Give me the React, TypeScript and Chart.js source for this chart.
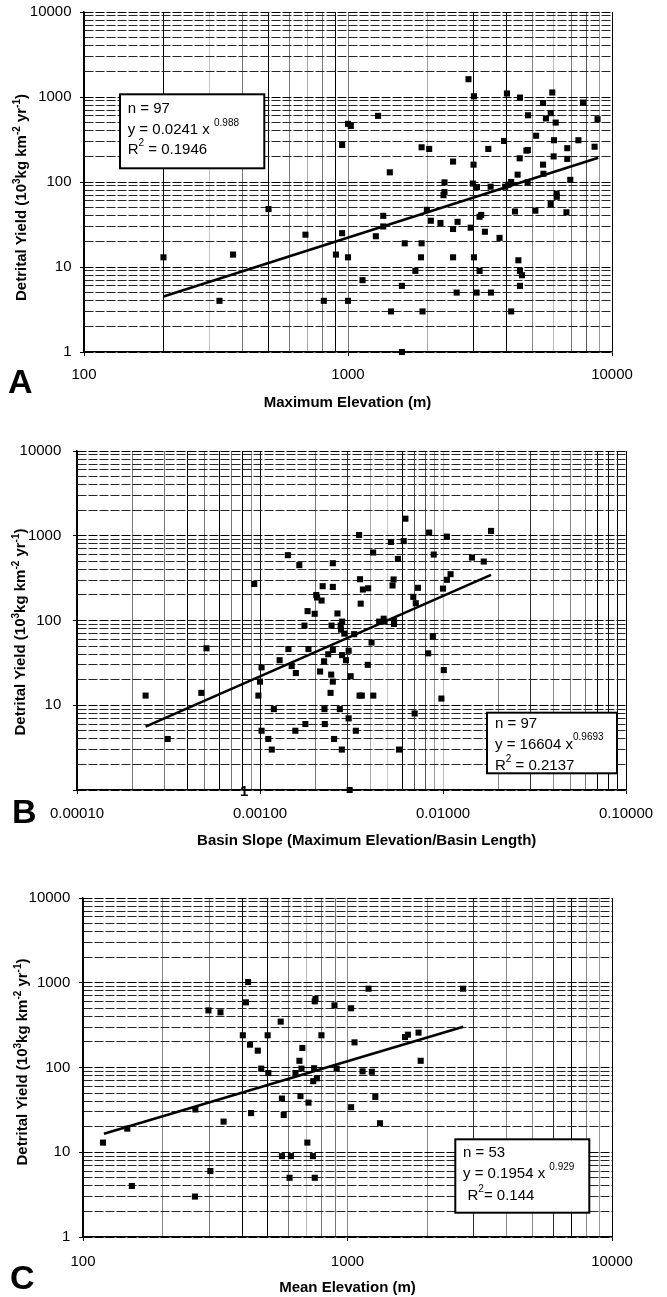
import React, { useEffect, useRef } from 'react';
import { Chart, registerables } from 'chart.js';

Chart.register(...registerables);

const FONT = '"Liberation Sans", Arial, Helvetica, sans-serif';

// ---------------- Panel A: Maximum Elevation ----------------
const aX = [200, 326, 367, 500, 690, 810, 900, 950, 950, 1000, 1000, 1000, 1025, 1135, 1275, 1300, 1360, 1360, 1440, 1455,
  1600, 1600, 1640, 1800, 1890, 1900, 1900, 1915, 1990, 2030, 2060, 2240, 2300, 2320, 2320, 2500, 2500, 2500, 2600, 2580,
  2860, 2915, 2970, 2990, 3000, 3000, 3080, 3070, 3150, 3150, 3195, 3300, 3400, 3470, 3480, 3750, 3900, 3940, 4000, 4050,
  4150, 4150, 4290, 4390, 4420, 4470, 4480, 4480, 4480, 4560, 4740, 4800, 4810, 4790, 5125, 5160, 5480, 5480, 5500, 5620,
  5860, 5860, 5940, 6010, 6030, 6120, 6170, 6180, 6720, 6770, 6770, 6950, 7460, 7770, 8590, 8815];
const aY = [13, 4, 14, 48, 24, 4, 14, 25, 273, 13, 4, 483, 457, 7, 23, 600, 40, 30, 130, 3,
  1, 6, 19, 9, 13, 19, 256, 3, 47, 245, 35, 33, 70, 76, 99, 174, 28, 13, 34, 5,
  1620, 29, 96, 160, 1020, 13, 87, 5, 9, 39, 41, 26, 245, 88, 5, 22, 304, 88, 1100, 93,
  100, 3, 45, 122, 12, 190, 985, 9, 6, 8, 234, 238, 610, 99, 46, 350, 850, 160, 125, 560,
  55, 645, 1130, 200, 310, 500, 73, 67, 44, 250, 187, 106, 310, 860, 260, 548];
const aTrendX = [200, 8870];
const aTrendY = [4.5, 193];
const aXMajors = [100, 1000, 10000];
const aXLabels = ['100', '1000', '10000'];

// ---------------- Panel B: Basin Slope ----------------
const bX = [0.000237, 0.000313, 0.000478, 0.00051, 0.00093, 0.00098, 0.001, 0.00102, 0.00102, 0.00111,
  0.00116, 0.00119, 0.00128, 0.00142, 0.00143, 0.00149, 0.00156, 0.00157, 0.00164, 0.00175,
  0.00177, 0.00182, 0.00184, 0.00199, 0.00203, 0.00205, 0.00213, 0.00217, 0.0022, 0.00224,
  0.00225, 0.00226, 0.00236, 0.00243, 0.00245, 0.00246, 0.0025, 0.0025, 0.0025, 0.0025,
  0.00254, 0.00265, 0.00273, 0.00276, 0.00277, 0.0028, 0.00281, 0.00281, 0.00289, 0.00295,
  0.00305, 0.00305, 0.00309, 0.00313, 0.00327, 0.00334, 0.00348, 0.0035, 0.00352, 0.00355,
  0.0036, 0.00365, 0.00388, 0.0039, 0.00407, 0.00415, 0.00416, 0.00448, 0.00474, 0.00479,
  0.0052, 0.0053, 0.00537, 0.0054, 0.0054, 0.00567, 0.00575, 0.0061, 0.00623, 0.00688,
  0.007, 0.0071, 0.0073, 0.0083, 0.0084, 0.0088, 0.0089, 0.0098, 0.01, 0.0101,
  0.0105, 0.0105, 0.011, 0.0144, 0.0167, 0.0183];
const bY = [13, 4, 14, 47, 270, 13, 19, 28, 5, 4,
  3, 9, 34, 590, 46, 29, 5, 24, 450, 87,
  6, 129, 46, 120, 200, 187, 25, 172, 254, 33,
  9, 6, 40, 14, 23, 87, 249, 474, 45, 19,
  4, 121, 9, 87, 78, 3, 97, 39, 70, 34,
  7, 44, 1, 22, 69, 5, 1020, 13, 307, 158,
  13, 232, 30, 240, 55, 634, 13, 97, 105, 97,
  845, 259, 305, 100, 91, 533, 3, 865, 1590, 190,
  8, 160, 243, 41, 1090, 65, 600, 12, 238, 26,
  302, 977, 352, 553, 496, 1140];
const bTrendX = [0.000237, 0.0183];
const bTrendY = [5.6, 345];
const bXMajors = [0.0001, 0.001, 0.01, 0.1];
const bXLabels = ['0.00010', '0.00100', '0.01000', '0.10000'];
const bStrayLabel = '1';
const bStrayX = 0.00082;
const bStrayY = 1;

// ---------------- Panel C: Mean Elevation ----------------
const cX = [119, 147, 153, 265, 266, 298, 303, 331, 340, 402, 413, 421, 428, 432, 458, 472, 499, 502, 559, 565,
  565, 574, 604, 611, 636, 658, 664, 670, 675, 705, 712, 740, 742, 748, 752, 752, 757, 766, 797, 893,
  910, 1032, 1032, 1063, 1140, 1201, 1236, 1274, 1327, 1650, 1692, 1856, 1891, 2735];
const cY = [13, 19, 4, 3, 32, 472, 6, 448, 23, 240, 587, 1020, 186, 29, 158, 97, 240, 86, 348, 43,
  9, 27.5, 5, 9, 86, 120, 46, 97, 170, 13, 38.5, 9, 69, 98, 5, 604, 643, 74.5, 240, 541,
  97, 500, 34, 198, 90, 851, 89, 45, 22, 229, 244, 258, 120, 851];
const cTrendX = [120, 2740];
const cTrendY = [16.5, 303];
const cXMajors = [100, 1000, 10000];
const cXLabels = ['100', '1000', '10000'];

// shared y axis
const yMajors = [1, 10, 100, 1000, 10000];
const yLabels = ['1', '10', '100', '1000', '10000'];
const bYLabels = ['', '10', '100', '1000', '10000'];

type Seg = { t: string; sup?: boolean };
const Y_TITLE: Seg[] = [
  { t: 'Detrital Yield (10' }, { t: '3', sup: true }, { t: 'kg km' }, { t: '-2', sup: true },
  { t: ' yr' }, { t: '-1', sup: true }, { t: ')' },
];

// vertical gridline shades (style only)
const aVShades = ['#000', '#000', '#c4c4c4', '#777', '#000', '#777', '#aaa', '#777', '#000', '#777',
  '#aaa', '#000', '#000', '#888', '#bbb', '#777', '#555', '#999', '#000'];
const bVShades = ['#000', '#777', '#777', '#000', '#777', '#000', '#777', '#000', '#888', '#000',
  '#777', '#333', '#aaa', '#ccc', '#000', '#555', '#555', '#999', '#bbb', '#888',
  '#333', '#888', '#888', '#777', '#000', '#000', '#000', '#000'];
const cVShades = ['#000', '#888', '#777', '#000', '#000', '#777', '#bbb', '#777', '#777', '#888',
  '#888', '#333', '#888', '#888', '#333', '#000', '#888', '#999', '#000'];

function withMinors(majors: number[]): number[] {
  const out: number[] = [];
  for (let i = 0; i < majors.length - 1; i++) {
    for (let k = 1; k <= 9; k++) out.push(k * majors[i]);
  }
  out.push(majors[majors.length - 1]);
  return out;
}

function majorIndex(v: number, majors: number[]): number {
  return majors.findIndex((m) => Math.abs(v / m - 1) < 1e-6);
}

function drawRich(ctx: CanvasRenderingContext2D, segs: Seg[], x: number, y: number, size: number, bold: boolean, align: 'left' | 'center', supRaise: number) {
  const w = bold ? 'bold ' : '';
  const normF = `${w}${size}px ${FONT}`;
  const supF = `${w}${Math.round(size * 0.64)}px ${FONT}`;
  let total = 0;
  for (const s of segs) {
    ctx.font = s.sup ? supF : normF;
    total += ctx.measureText(s.t).width;
  }
  let cx = align === 'center' ? x - total / 2 : x;
  ctx.textAlign = 'left';
  ctx.textBaseline = 'alphabetic';
  for (const s of segs) {
    ctx.font = s.sup ? supF : normF;
    ctx.fillText(s.t, cx, s.sup ? y - supRaise : y);
    cx += ctx.measureText(s.t).width;
  }
}

type PanelCfg = {
  key: string;
  top: number;
  height: number;
  area: { left: number; right: number; top: number; bottom: number };
  xs: number[]; ys: number[]; tx: number[]; ty: number[];
  xMajors: number[]; xLabels: string[]; yLabelsList: string[];
  vShades: string[];
  yPad: number; xPad: number;
  letter: string; letterPos: [number, number];
  xTitle: string; xTitlePos: [number, number];
  yTitlePos: [number, number];
  box: { x: number; y: number; w: number; h: number };
  boxLines: Seg[][]; boxTextX: number[]; boxBaselines: number[];
  stray?: { text: string; x: number; y: number };
};

const W = 667;

const panels: PanelCfg[] = [
  {
    key: 'A', top: 0, height: 430,
    area: { left: 84, right: 612, top: 12, bottom: 352 },
    xs: aX, ys: aY, tx: aTrendX, ty: aTrendY,
    xMajors: aXMajors, xLabels: aXLabels, yLabelsList: yLabels, vShades: aVShades,
    yPad: 8.5, xPad: 10,
    letter: 'A', letterPos: [8, 393],
    xTitle: 'Maximum Elevation (m)', xTitlePos: [347.5, 401.7],
    yTitlePos: [21, 197.5],
    box: { x: 120, y: 94.3, w: 144.3, h: 74 },
    boxLines: [[{ t: 'n = 97' }], [{ t: 'y = 0.0241 x ' }, { t: '0.988', sup: true }], [{ t: 'R' }, { t: '2', sup: true }, { t: ' = 0.1946' }]],
    boxTextX: [127.7, 127.7, 127.7], boxBaselines: [112.7, 134, 154.3],
  },
  {
    key: 'B', top: 430, height: 430,
    area: { left: 77, right: 626, top: 21, bottom: 360 },
    xs: bX, ys: bY, tx: bTrendX, ty: bTrendY,
    xMajors: bXMajors, xLabels: bXLabels, yLabelsList: bYLabels, vShades: bVShades,
    yPad: 11.7, xPad: 10.5,
    letter: 'B', letterPos: [12, 393],
    xTitle: 'Basin Slope (Maximum Elevation/Basin Length)', xTitlePos: [366.7, 410],
    yTitlePos: [20, 202],
    box: { x: 487, y: 282.7, w: 130, h: 60.6 },
    boxLines: [[{ t: 'n = 97' }], [{ t: 'y = 16604 x' }, { t: '0.9693', sup: true }], [{ t: 'R' }, { t: '2', sup: true }, { t: ' = 0.2137' }]],
    boxTextX: [495, 495, 495], boxBaselines: [298, 318.5, 340],
    stray: { text: bStrayLabel, x: bStrayX, y: bStrayY },
  },
  {
    key: 'C', top: 860, height: 437,
    area: { left: 83, right: 612, top: 38, bottom: 377 },
    xs: cX, ys: cY, tx: cTrendX, ty: cTrendY,
    xMajors: cXMajors, xLabels: cXLabels, yLabelsList: yLabels, vShades: cVShades,
    yPad: 8.7, xPad: 11.4,
    letter: 'C', letterPos: [10, 429],
    xTitle: 'Mean Elevation (m)', xTitlePos: [347.5, 426.7],
    yTitlePos: [22, 202],
    box: { x: 455.3, y: 279.3, w: 134, h: 73.4 },
    boxLines: [[{ t: 'n = 53' }], [{ t: 'y = 0.1954 x ' }, { t: '0.929', sup: true }], [{ t: 'R' }, { t: '2', sup: true }, { t: '= 0.144' }]],
    boxTextX: [463, 463, 467.5], boxBaselines: [296.7, 318.3, 340],
  },
];

function makeAnnot(p: PanelCfg) {
  return {
    id: 'annot' + p.key,
    afterDatasetsDraw(chart: any) {
      const ctx: CanvasRenderingContext2D = chart.ctx;
      ctx.save();
      ctx.fillStyle = '#000';
      ctx.font = `bold 34px ${FONT}`;
      ctx.textAlign = 'left';
      ctx.textBaseline = 'alphabetic';
      ctx.fillText(p.letter, p.letterPos[0], p.letterPos[1]);

      ctx.font = `bold 15px ${FONT}`;
      ctx.textAlign = 'center';
      ctx.fillText(p.xTitle, p.xTitlePos[0], p.xTitlePos[1] + 5.4);

      ctx.save();
      ctx.translate(p.yTitlePos[0], p.yTitlePos[1]);
      ctx.rotate(-Math.PI / 2);
      drawRich(ctx, Y_TITLE, 0, 5.4, 15, true, 'center', 6);
      ctx.restore();

      const b = p.box;
      ctx.fillStyle = '#fff';
      ctx.fillRect(b.x, b.y, b.w, b.h);
      ctx.strokeStyle = '#000';
      ctx.lineWidth = 2;
      ctx.strokeRect(b.x, b.y, b.w, b.h);
      ctx.fillStyle = '#000';
      p.boxLines.forEach((segs, i) => drawRich(ctx, segs, p.boxTextX[i], p.boxBaselines[i], 15, false, 'left', 8.5));

      if (p.stray) {
        const px = chart.scales.x.getPixelForValue(p.stray.x);
        const py = chart.scales.y.getPixelForValue(p.stray.y);
        ctx.font = `bold 15px ${FONT}`;
        ctx.textAlign = 'center';
        ctx.textBaseline = 'middle';
        ctx.fillText(p.stray.text, px, py + 2);
      }
      ctx.restore();
    },
  };
}

function Panel({ p }: { p: PanelCfg }) {
  const ref = useRef<HTMLCanvasElement | null>(null);
  useEffect(() => {
    if (!ref.current) return;
    const xTicks = withMinors(p.xMajors);
    const yTicks = withMinors(yMajors);
    const pts = p.xs.map((x, i) => ({ x, y: p.ys[i] }));
    const trend = p.tx.map((x, i) => ({ x, y: p.ty[i] }));
    const chart = new Chart(ref.current, {
      type: 'scatter',
      data: {
        datasets: [
          {
            data: pts,
            pointStyle: 'rect',
            pointRadius: 4.3,
            pointHoverRadius: 4.3,
            backgroundColor: '#000',
            borderColor: '#000',
            borderWidth: 0,
            clip: false,
          } as any,
          {
            data: trend,
            showLine: true,
            pointRadius: 0,
            borderColor: '#000',
            borderWidth: 2.6,
            clip: false,
          } as any,
        ],
      },
      options: {
        responsive: false,
        animation: false,
        devicePixelRatio: 1,
        events: [],
        layout: { padding: { top: p.area.top, right: W - p.area.right, left: 0, bottom: 0 } },
        plugins: { legend: { display: false }, tooltip: { enabled: false } },
        scales: {
          x: {
            type: 'logarithmic',
            position: 'bottom',
            min: p.xMajors[0],
            max: p.xMajors[p.xMajors.length - 1],
            afterBuildTicks: (s: any) => { s.ticks = xTicks.map((v) => ({ value: v })); },
            afterFit: (s: any) => { s.height = p.height - p.area.bottom; s.paddingLeft = 0; s.paddingRight = 0; },
            ticks: {
              autoSkip: false, maxRotation: 0, minRotation: 0, padding: p.xPad, color: '#000',
              font: { family: FONT, size: 15 },
              callback: (v: any) => { const i = majorIndex(Number(v), p.xMajors); return i >= 0 ? p.xLabels[i] : ''; },
            },
            grid: {
              lineWidth: 1,
              tickLength: 4,
              color: (c: any) => {
                if (!c.tick) return '#000';
                const i = xTicks.findIndex((t) => Math.abs(t / c.tick.value - 1) < 1e-6);
                return i >= 0 ? p.vShades[i] : '#888';
              },
              tickColor: (c: any) => (c.tick && majorIndex(c.tick.value, p.xMajors) >= 0 ? '#000' : 'rgba(0,0,0,0)'),
            },
            border: { color: '#000', width: 1.5 },
          } as any,
          y: {
            type: 'logarithmic',
            position: 'left',
            min: 1,
            max: 10000,
            afterBuildTicks: (s: any) => { s.ticks = yTicks.map((v) => ({ value: v })); },
            afterFit: (s: any) => { s.width = p.area.left; s.paddingTop = 0; s.paddingBottom = 0; },
            ticks: {
              autoSkip: false, padding: p.yPad, color: '#000',
              font: { family: FONT, size: 15 },
              callback: (v: any) => { const i = majorIndex(Number(v), yMajors); return i >= 0 ? p.yLabelsList[i] : ''; },
            },
            grid: {
              lineWidth: 1,
              tickLength: 4,
              color: (c: any) => (c.tick && majorIndex(c.tick.value, yMajors) >= 0 ? '#000' : '#262626'),
              tickColor: (c: any) => (c.tick && majorIndex(c.tick.value, yMajors) >= 0 ? '#000' : 'rgba(0,0,0,0)'),
            },
            border: {
              color: '#000', width: 1.5,
              dash: (c: any) => (c.type === 'tick' ? [9, 2] : []),
            },
          } as any,
        },
      },
      plugins: [makeAnnot(p)],
    } as any);
    return () => chart.destroy();
  }, [p]);
  return (
    <canvas
      ref={ref}
      width={W}
      height={p.height}
      style={{ position: 'absolute', left: 0, top: p.top, width: W, height: p.height }}
    />
  );
}

export default function App() {
  return (
    <div style={{ position: 'absolute', left: 0, top: 0, width: W, height: 1297, background: '#fff' }}>
      {panels.map((p) => (
        <Panel key={p.key} p={p} />
      ))}
    </div>
  );
}
